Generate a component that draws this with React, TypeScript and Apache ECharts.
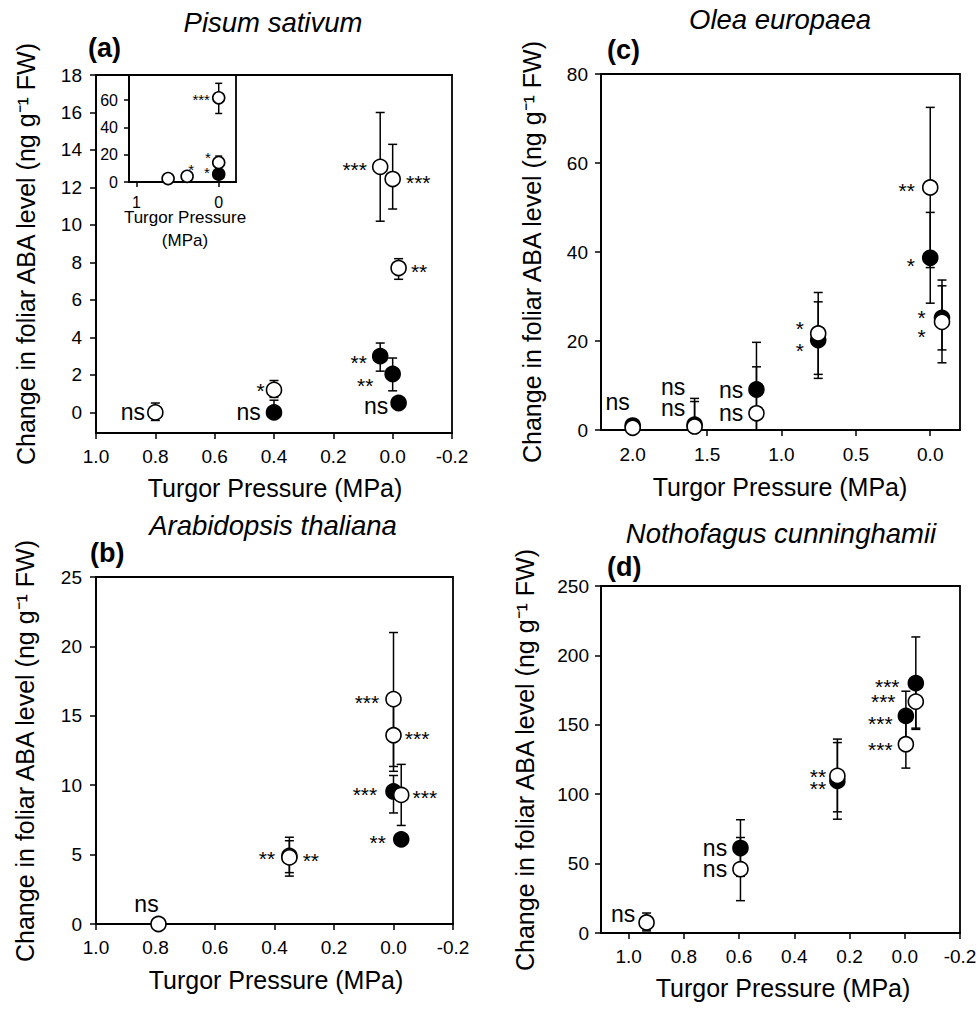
import React, { useEffect, useRef } from 'react';
import * as echarts from 'echarts';

const FONT = "'Liberation Sans', Arial, Helvetica, sans-serif";

// ---------------- Panel (a) Pisum sativum ----------------
const aXTicks = [1.0, 0.8, 0.6, 0.4, 0.2, 0.0, -0.2];
const aYTicks = [0, 2, 4, 6, 8, 10, 12, 14, 16, 18];
const aOpenX = [0.8, 0.4, 0.042, 0.0, -0.02];
const aOpenY = [0.0, 1.2, 13.1, 12.45, 7.7];
const aOpenLo = [-0.43, 0.8, 10.2, 10.85, 7.1];
const aOpenHi = [0.5, 1.7, 16.0, 14.3, 8.2];
const aOpenSig = ['ns', '*', '***', '***', '**'];
const aFillX = [0.4, 0.042, 0.0, -0.02];
const aFillY = [0.0, 3.0, 2.05, 0.5];
const aFillLo = [-0.3, 2.2, 1.15, 0.25];
const aFillHi = [0.65, 3.7, 2.9, 0.75];
const aFillSig = ['ns', '**', '**', 'ns'];

// inset of (a)
const insXTicks = [1, 0];
const insYTicks = [0, 20, 40, 60];
const insOpenX = [0.615, 0.384, 0.0, 0.0];
const insOpenY = [2.5, 4.2, 61.7, 14.2];
const insOpenLo = [2.0, 3.5, 50.2, 10.0];
const insOpenHi = [3.0, 5.0, 72.3, 19.0];
const insOpenSig = ['', '*', '***', '*'];
const insFillX = [0.0];
const insFillY = [5.7];
const insFillLo = [4.0];
const insFillHi = [7.0];
const insFillSig = ['*'];

// ---------------- Panel (b) Arabidopsis thaliana ----------------
const bXTicks = [1.0, 0.8, 0.6, 0.4, 0.2, 0.0, -0.2];
const bYTicks = [0, 5, 10, 15, 20, 25];
const bOpenX = [0.79, 0.35, 0.35, 0.0, 0.0, -0.026];
const bOpenY = [0.0, 4.9, 4.8, 16.2, 13.6, 9.3];
const bOpenLo = [-0.1, 3.45, 3.7, 11.35, 11.0, 7.1];
const bOpenHi = [0.1, 6.25, 6.0, 21.0, 16.3, 11.5];
const bOpenSig = ['ns', '**', '**', '***', '***', '***'];
const bFillX = [0.0, -0.026];
const bFillY = [9.55, 6.1];
const bFillLo = [8.0, 5.9];
const bFillHi = [10.7, 6.3];
const bFillSig = ['***', '**'];

// ---------------- Panel (c) Olea europaea ----------------
const cXTicks = [2.0, 1.5, 1.0, 0.5, 0.0];
const cYTicks = [0, 20, 40, 60, 80];
const cOpenX = [2.0, 1.584, 1.168, 0.753, 0.0, -0.079];
const cOpenY = [0.5, 0.8, 3.75, 21.7, 54.5, 24.3];
const cOpenLo = [0.0, -5.5, -6.7, 12.5, 36.5, 15.1];
const cOpenHi = [1.0, 7.1, 14.2, 30.9, 72.5, 33.7];
const cOpenSig = ['ns', 'ns', 'ns', '*', '**', '*'];
const cFillX = [2.0, 1.584, 1.168, 0.753, 0.0, -0.079];
const cFillY = [1.0, 1.2, 9.1, 20.2, 38.7, 25.2];
const cFillLo = [0.4, -4.0, -1.5, 11.6, 28.5, 18.0];
const cFillHi = [1.6, 6.4, 19.7, 28.8, 48.9, 32.4];
const cFillSig = ['', 'ns', 'ns', '*', '*', '*'];

// ---------------- Panel (d) Nothofagus cunninghamii ----------------
const dXTicks = [1.0, 0.8, 0.6, 0.4, 0.2, 0.0, -0.2];
const dYTicks = [0, 50, 100, 150, 200, 250];
const dOpenX = [0.935, 0.595, 0.244, -0.004, -0.04];
const dOpenY = [7.6, 46.0, 113.2, 136.0, 166.7];
const dOpenLo = [1.5, 23.3, 87.3, 118.8, 147.6];
const dOpenHi = [14.4, 68.8, 139.7, 153.2, 184.0];
const dOpenSig = ['ns', 'ns', '**', '***', '***'];
const dFillX = [0.595, 0.244, -0.004, -0.04];
const dFillY = [61.2, 109.6, 156.4, 180.0];
const dFillLo = [40.8, 82.0, 138.6, 146.7];
const dFillHi = [81.6, 137.2, 174.2, 213.3];
const dFillSig = ['ns', '**', '***', '***'];

// ---------------- label placement (layout only) ----------------
type Place = [string, number, number, number]; // side, distance, dx, dy
const aOpenPlace: Place[] = [['left', 2, 0, 0], ['left', 1, 0, -2], ['left', 5, 0, 0], ['right', 5, 0, 0], ['right', 4, 0, 0]];
const aFillPlace: Place[] = [['left', 5, 0, 0], ['left', 5, 0, 3], ['left', 11, 0, 9], ['left', 2, 0, 3]];
const insOpenPlace: Place[] = [['left', 0, 0, 0], ['top', 0, 4, 2], ['left', 2, 0, 0], ['left', 1, 0, -7]];
const insFillPlace: Place[] = [['left', 2, 0, -4]];
const bOpenPlace: Place[] = [['top', 3, -12, 0], ['left', 6, 0, 0], ['right', 5, 0, 0], ['left', 6, 0, 0], ['right', 3, 0, 0], ['right', 3, 0, 0]];
const bFillPlace: Place[] = [['left', 8, 0, 0], ['left', 7, 0, 0]];
const cOpenPlace: Place[] = [['top', 8, -15, 0], ['left', 1, 0, -18], ['left', 5, 0, 0], ['left', 6, 0, -8], ['left', 7, 0, 0], ['left', 8, 0, 12]];
const cFillPlace: Place[] = [['left', 0, 0, 0], ['left', 1, 0, -38], ['left', 5, 0, 0], ['left', 6, 0, 7], ['left', 7, 0, 5], ['left', 8, 0, -3]];
const dOpenPlace: Place[] = [['left', 3, 0, -8], ['left', 5, 0, 0], ['left', 3, 0, -2], ['left', 5, 0, 2], ['left', 12, 0, -3]];
const dFillPlace: Place[] = [['left', 5, 0, 0], ['left', 3, 0, 5], ['left', 5, 0, 5], ['left', 8, 0, 0]];

const Y_TITLE = 'Change in foliar ABA level (ng g\u207B\u00B9 FW)';
const X_TITLE = 'Turgor Pressure (MPa)';

function fmt1(v: number) {
  const r = Math.round(v * 10) / 10;
  return (Math.abs(r) < 1e-9 ? 0 : r).toFixed(1);
}
function fmt0(v: number) {
  return String(Math.round(v));
}

function xAx(grid: number, min: number, max: number, ticks: number[], fmt: any, fs: number, margin: number, tickLen: number) {
  return {
    type: 'value', gridIndex: grid, min, max, inverse: true, position: 'bottom',
    axisLine: { show: true, onZero: false, lineStyle: { color: '#000', width: 1.8 } },
    axisTick: { show: true, length: tickLen, customValues: ticks, lineStyle: { color: '#000', width: 1.5 } },
    axisLabel: { show: true, customValues: ticks, formatter: fmt, fontSize: fs, color: '#000', fontFamily: FONT, margin, hideOverlap: false },
    splitLine: { show: false },
  };
}
function yAx(grid: number, min: number, max: number, ticks: number[], fs: number, margin: number, tickLen: number) {
  return {
    type: 'value', gridIndex: grid, min, max, position: 'left',
    axisLine: { show: true, onZero: false, lineStyle: { color: '#000', width: 1.8 } },
    axisTick: { show: true, length: tickLen, customValues: ticks, lineStyle: { color: '#000', width: 1.5 } },
    axisLabel: { show: true, customValues: ticks, formatter: fmt0, fontSize: fs, color: '#000', fontFamily: FONT, margin, hideOverlap: false },
    splitLine: { show: false },
  };
}

function errSeries(idx: number, xs: number[], lo: number[], hi: number[], cap: number) {
  return {
    type: 'custom', xAxisIndex: idx, yAxisIndex: idx, clip: true, z: 1, silent: true,
    encode: { x: 0, y: [1, 2] },
    data: xs.map((x, i) => [x, lo[i], hi[i]]),
    renderItem: (_p: any, api: any) => {
      const x = api.value(0);
      const a = api.coord([x, api.value(1)]);
      const b = api.coord([x, api.value(2)]);
      const st = { stroke: '#000', lineWidth: 1.5 };
      return {
        type: 'group',
        children: [
          { type: 'line', shape: { x1: a[0], y1: a[1], x2: b[0], y2: b[1] }, style: st },
          { type: 'line', shape: { x1: a[0] - cap, y1: a[1], x2: a[0] + cap, y2: a[1] }, style: st },
          { type: 'line', shape: { x1: b[0] - cap, y1: b[1], x2: b[0] + cap, y2: b[1] }, style: st },
        ],
      };
    },
  };
}

function ptSeries(idx: number, xs: number[], ys: number[], sig: string[], place: Place[], filled: boolean, size: number, starFs: number, nsFs: number) {
  return {
    type: 'scatter', xAxisIndex: idx, yAxisIndex: idx, clip: false, z: filled ? 3 : 4, silent: true,
    symbol: 'circle', symbolSize: size,
    itemStyle: { color: filled ? '#000' : '#fff', borderColor: '#000', borderWidth: 1.6, opacity: 1 },
    data: xs.map((x, i) => {
      const s = sig[i];
      const p = place[i];
      const star = s.indexOf('*') >= 0;
      return {
        value: [x, ys[i]],
        label: {
          show: s.length > 0,
          formatter: s,
          position: p[0],
          distance: p[1],
          offset: [p[2], p[3] + (star ? Math.round(starFs * 0.12) : 0)],
          fontSize: star ? starFs : nsFs,
          lineHeight: star ? Math.round(starFs * 0.55) : Math.round(nsFs * 0.8),
          fontFamily: FONT,
          color: '#000',
        },
      };
    }),
  };
}

function txt(x: number, y: number, text: string, fs: number, extra: any = {}) {
  return {
    type: 'text', x, y, silent: true,
    style: { text, fontSize: fs, fontFamily: FONT, fill: '#000', align: 'center', verticalAlign: 'middle', ...extra },
  };
}
function ytxt(x: number, y: number) {
  return {
    type: 'text', x, y, rotation: Math.PI / 2, silent: true,
    style: { text: Y_TITLE, fontSize: 25, fontFamily: FONT, fill: '#000', align: 'center', verticalAlign: 'middle' },
  };
}

export default function App() {
  const ref = useRef<HTMLDivElement>(null);
  useEffect(() => {
    document.body.style.margin = '0';
    const chart = echarts.init(ref.current as HTMLDivElement, null, { renderer: 'svg' });
    const gridBase = { show: true, borderColor: '#000', borderWidth: 1.8, backgroundColor: 'transparent', containLabel: false, outerBoundsMode: 'none' };
    const option: any = {
      animation: false,
      backgroundColor: '#fff',
      grid: [
        { ...gridBase, left: 96, top: 75, width: 356, height: 358 },
        { ...gridBase, left: 129, top: 75, width: 107, height: 107 },
        { ...gridBase, left: 96, top: 577, width: 357, height: 347 },
        { ...gridBase, left: 601, top: 74, width: 359, height: 356 },
        { ...gridBase, left: 601, top: 586, width: 359, height: 347 },
      ],
      xAxis: [
        xAx(0, -0.2, 1.0, aXTicks, fmt1, 19, 14, 6),
        xAx(1, -0.21, 1.09, insXTicks, fmt0, 16, 12, 5),
        xAx(2, -0.2, 1.0, bXTicks, fmt1, 19, 14, 6),
        xAx(3, -0.2, 2.213, cXTicks, fmt1, 19, 15, 6),
        xAx(4, -0.2, 1.1, dXTicks, fmt1, 19, 14, 6),
      ],
      yAxis: [
        yAx(0, -1.1, 18, aYTicks, 19, 14, 6),
        yAx(1, 0, 78.4, insYTicks, 16, 11, 5),
        yAx(2, 0, 25, bYTicks, 19, 14, 6),
        yAx(3, 0, 80, cYTicks, 19, 13, 6),
        yAx(4, 0, 250, dYTicks, 19, 12, 6),
      ],
      series: [
        errSeries(0, aOpenX, aOpenLo, aOpenHi, 4.5),
        errSeries(0, aFillX, aFillLo, aFillHi, 4.5),
        ptSeries(0, aFillX, aFillY, aFillSig, aFillPlace, true, 15, 21, 23),
        ptSeries(0, aOpenX, aOpenY, aOpenSig, aOpenPlace, false, 15, 21, 23),

        errSeries(1, insOpenX, insOpenLo, insOpenHi, 3.5),
        errSeries(1, insFillX, insFillLo, insFillHi, 3.5),
        ptSeries(1, insFillX, insFillY, insFillSig, insFillPlace, true, 12, 15, 14),
        ptSeries(1, insOpenX, insOpenY, insOpenSig, insOpenPlace, false, 12, 15, 14),

        errSeries(2, bOpenX, bOpenLo, bOpenHi, 4.5),
        errSeries(2, bFillX, bFillLo, bFillHi, 4.5),
        ptSeries(2, bFillX, bFillY, bFillSig, bFillPlace, true, 15, 21, 23),
        ptSeries(2, bOpenX, bOpenY, bOpenSig, bOpenPlace, false, 15, 21, 23),

        errSeries(3, cOpenX, cOpenLo, cOpenHi, 4.5),
        errSeries(3, cFillX, cFillLo, cFillHi, 4.5),
        ptSeries(3, cFillX, cFillY, cFillSig, cFillPlace, true, 15, 21, 23),
        ptSeries(3, cOpenX, cOpenY, cOpenSig, cOpenPlace, false, 15, 21, 23),

        errSeries(4, dOpenX, dOpenLo, dOpenHi, 4.5),
        errSeries(4, dFillX, dFillLo, dFillHi, 4.5),
        ptSeries(4, dFillX, dFillY, dFillSig, dFillPlace, true, 15, 21, 23),
        ptSeries(4, dOpenX, dOpenY, dOpenSig, dOpenPlace, false, 15, 21, 23),
      ],
      graphic: [
        txt(273, 22, 'Pisum sativum', 27.5, { fontStyle: 'italic' }),
        txt(88, 48, '(a)', 27, { fontWeight: 'bold', align: 'left' }),
        txt(780, 19, 'Olea europaea', 27.5, { fontStyle: 'italic' }),
        txt(607, 50, '(c)', 27, { fontWeight: 'bold', align: 'left' }),
        txt(273, 525, 'Arabidopsis thaliana', 27.5, { fontStyle: 'italic' }),
        txt(90, 553, '(b)', 27, { fontWeight: 'bold', align: 'left' }),
        txt(781, 533, 'Nothofagus cunninghamii', 27.5, { fontStyle: 'italic' }),
        txt(607, 567, '(d)', 27, { fontWeight: 'bold', align: 'left' }),
        txt(275, 488, X_TITLE, 25),
        txt(780, 487, X_TITLE, 25),
        txt(276, 980, X_TITLE, 25),
        txt(783, 988, X_TITLE, 25),
        txt(185, 217, 'Turgor Pressure', 17),
        txt(185, 240, '(MPa)', 17),
        ytxt(26, 254),
        ytxt(25, 751),
        ytxt(532, 252),
        ytxt(525, 760),
      ],
    };
    chart.setOption(option);
    return () => chart.dispose();
  }, []);
  return <div ref={ref} style={{ width: 979, height: 1017 }} />;
}
